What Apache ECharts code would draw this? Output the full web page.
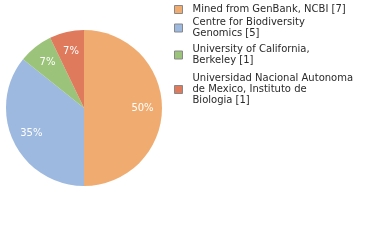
<!DOCTYPE html>
<html><head><meta charset="utf-8">
<script src="https://cdn.jsdelivr.net/npm/echarts@6/dist/echarts.min.js"></script>
<style>html,body{margin:0;padding:0;background:#fff}#c{width:380px;height:240px}</style>
</head><body><div id="c"></div>
<script>
const categories = ["Mined from GenBank, NCBI [7]", "Centre for Biodiversity\nGenomics [5]", "University of California,\nBerkeley [1]", "Universidad Nacional Autonoma\nde Mexico, Instituto de\nBiologia [1]"];
const values = [7, 5, 1, 1];
const colors = ["#F0AC70", "#9DB9E0", "#9BC47A", "#E07A5D"];
const legendTops = [4, 17, 44, 73];

const chart = echarts.init(document.getElementById('c'), null, {renderer: 'canvas'});
const data = categories.map((n, i) => ({name: n, value: values[i], itemStyle: {color: colors[i]}}));
const font = 'DejaVu Sans';
chart.setOption({
  animation: false,
  legend: categories.map((n, i) => ({
    data: [{name: n, itemStyle: {borderColor: '#888', borderWidth: 1}}],
    left: 174, top: legendTops[i], padding: 0, orient: 'vertical',
    icon: 'rect', itemWidth: 8, itemHeight: 8, selectedMode: false,
    textStyle: {fontFamily: font, fontSize: 10, lineHeight: 11, color: '#2a2a2a', padding: [0, 0, 0, 5]}
  })),
  series: [{
    type: 'pie', center: [84, 108], radius: [0, 78], startAngle: 90, clockwise: true,
    silent: true, label: {show: false}, labelLine: {show: false}, data: data
  }, {
    type: 'pie', center: [84, 108], radius: [33, 78], startAngle: 90, clockwise: true,
    silent: true, itemStyle: {color: 'rgba(0,0,0,0)'}, labelLine: {show: false},
    label: {show: true, position: 'inside', color: '#fff', fontFamily: font, fontSize: 10,
      formatter: p => Math.floor(p.percent) + '%'},
    data: values.map((v, i) => ({name: categories[i] + ' ', value: v}))
  }]
});
</script></body></html>
